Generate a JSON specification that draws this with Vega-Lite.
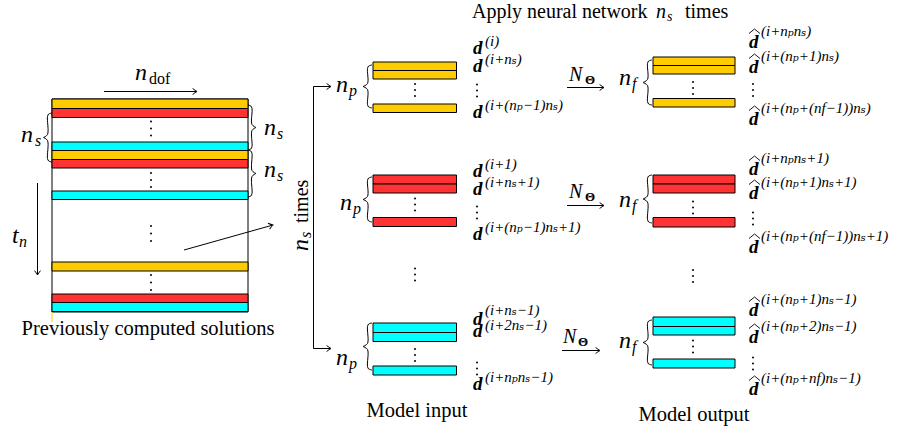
{
  "$schema": "https://vega.github.io/schema/vega-lite/v6.json",
  "width": 919,
  "height": 429,
  "padding": 0,
  "autosize": "none",
  "background": "white",
  "config": {"view": {"stroke": null}, "text": {"font": "'Liberation Serif', 'DejaVu Serif', 'Times New Roman', serif"}},
  "encoding": {
    "x": {"field": "x", "type": "quantitative", "scale": {"domain": [0, 919], "nice": false, "zero": false}, "axis": null},
    "y": {"field": "y", "type": "quantitative", "scale": {"domain": [0, 429], "reverse": true, "nice": false, "zero": false}, "axis": null}
  },
  "layer": [
    {
      "data": {"values": [{"x": 52, "x2": 248, "y": 99, "y2": 312}]},
      "mark": {"type": "rect", "fill": "white", "stroke": "black", "strokeWidth": 1},
      "encoding": {"x2": {"field": "x2"}, "y2": {"field": "y2"}}
    },
    {
      "data": {"values": [
        {"grp": "a", "x": 52, "x2": 248, "y": 99, "y2": 108.5},
        {"grp": "b", "x": 52, "x2": 248, "y": 108.5, "y2": 117.5},
        {"grp": "c", "x": 52, "x2": 248, "y": 142, "y2": 150.5},
        {"grp": "a", "x": 52, "x2": 248, "y": 150.5, "y2": 159.5},
        {"grp": "b", "x": 52, "x2": 248, "y": 159.5, "y2": 168},
        {"grp": "c", "x": 52, "x2": 248, "y": 191, "y2": 199.5},
        {"grp": "a", "x": 52, "x2": 248, "y": 262, "y2": 271},
        {"grp": "b", "x": 52, "x2": 248, "y": 294, "y2": 302.5},
        {"grp": "c", "x": 52, "x2": 248, "y": 302.5, "y2": 311.5},
        {"grp": "a", "x": 373, "x2": 456.5, "y": 62, "y2": 70.5},
        {"grp": "a", "x": 373, "x2": 456.5, "y": 70.5, "y2": 79},
        {"grp": "a", "x": 373, "x2": 456.5, "y": 104, "y2": 112.5},
        {"grp": "b", "x": 373, "x2": 456.5, "y": 175, "y2": 184},
        {"grp": "b", "x": 373, "x2": 456.5, "y": 184, "y2": 193},
        {"grp": "b", "x": 373, "x2": 456.5, "y": 217.5, "y2": 226.5},
        {"grp": "c", "x": 373, "x2": 456.5, "y": 323, "y2": 332.5},
        {"grp": "c", "x": 373, "x2": 456.5, "y": 332.5, "y2": 341.5},
        {"grp": "c", "x": 373, "x2": 456.5, "y": 366, "y2": 375},
        {"grp": "a", "x": 653, "x2": 735, "y": 57, "y2": 65.5},
        {"grp": "a", "x": 653, "x2": 735, "y": 65.5, "y2": 74},
        {"grp": "a", "x": 653, "x2": 735, "y": 98.5, "y2": 107},
        {"grp": "b", "x": 653, "x2": 735, "y": 175, "y2": 184},
        {"grp": "b", "x": 653, "x2": 735, "y": 184, "y2": 193},
        {"grp": "b", "x": 653, "x2": 735, "y": 217.5, "y2": 227},
        {"grp": "c", "x": 653, "x2": 735, "y": 317, "y2": 326.5},
        {"grp": "c", "x": 653, "x2": 735, "y": 326.5, "y2": 335},
        {"grp": "c", "x": 653, "x2": 735, "y": 359, "y2": 368}
      ]},
      "mark": {"type": "rect", "stroke": "black", "strokeWidth": 1},
      "encoding": {
        "x2": {"field": "x2"}, "y2": {"field": "y2"},
        "fill": {"field": "grp", "type": "nominal", "scale": {"domain": ["a", "b", "c"], "range": ["#FFCC00", "#FF3333", "#00FFFF"]}, "legend": null}
      }
    },
    {
      "data": {"values": [{"x": 52, "x2": 52, "y": 312, "y2": 322}]},
      "mark": {"type": "rule", "color": "#FFCC00", "strokeWidth": 1},
      "encoding": {"x2": {"field": "x2"}, "y2": {"field": "y2"}}
    },
    {
      "data": {"values": [
        {"x": 104, "y": 91.5, "x2": 196, "y2": 91.5},
        {"x": 37.5, "y": 183, "x2": 37.5, "y2": 274},
        {"x": 184, "y": 250, "x2": 272, "y2": 225.3},
        {"x": 313.5, "y": 86.5, "x2": 313.5, "y2": 348.5},
        {"x": 313.5, "y": 86.5, "x2": 330, "y2": 86.5},
        {"x": 313.5, "y": 348.5, "x2": 330, "y2": 348.5},
        {"x": 567, "y": 87.5, "x2": 603, "y2": 87.5},
        {"x": 567, "y": 205.5, "x2": 603, "y2": 205.5},
        {"x": 562, "y": 350.5, "x2": 599, "y2": 350.5}
      ]},
      "mark": {"type": "rule", "color": "black", "strokeWidth": 1},
      "encoding": {"x2": {"field": "x2"}, "y2": {"field": "y2"}}
    },
    {
      "data": {"values": [
        {"x": 197, "y": 91.5}, {"x": 331, "y": 86.5}, {"x": 331, "y": 348.5},
        {"x": 604, "y": 87.5}, {"x": 604, "y": 205.5}, {"x": 600, "y": 350.5}
      ]},
      "mark": {"type": "point", "shape": "M-1.6,-1.1Q-0.6,-0.3,0,0Q-0.6,0.3,-1.6,1.1", "filled": false, "stroke": "black", "strokeWidth": 1, "size": 30, "opacity": 1, "angle": 0},
      "encoding": {}
    },
    {
      "data": {"values": [{"x": 37.5, "y": 275}]},
      "mark": {"type": "point", "shape": "M-1.6,-1.1Q-0.6,-0.3,0,0Q-0.6,0.3,-1.6,1.1", "filled": false, "stroke": "black", "strokeWidth": 1, "size": 30, "opacity": 1, "angle": 90},
      "encoding": {}
    },
    {
      "data": {"values": [{"x": 273, "y": 225}]},
      "mark": {"type": "point", "shape": "M-1.6,-1.1Q-0.6,-0.3,0,0Q-0.6,0.3,-1.6,1.1", "filled": false, "stroke": "black", "strokeWidth": 1, "size": 30, "opacity": 1, "angle": 344.3},
      "encoding": {}
    },
    {
      "data": {"values": [
        {"b": "b1t", "k": 0, "x": 52, "y": 113}, {"b": "b1t", "k": 1, "x": 48.7, "y": 114}, {"b": "b1t", "k": 2, "x": 47.5, "y": 116.5}, {"b": "b1t", "k": 3, "x": 47.5, "y": 134.5}, {"b": "b1t", "k": 4, "x": 43.5, "y": 137.5},
        {"b": "b1b", "k": 0, "x": 43.5, "y": 137.5}, {"b": "b1b", "k": 1, "x": 47.5, "y": 140.5}, {"b": "b1b", "k": 2, "x": 47.5, "y": 158.5}, {"b": "b1b", "k": 3, "x": 48.7, "y": 161}, {"b": "b1b", "k": 4, "x": 52, "y": 162},
        {"b": "b2t", "k": 0, "x": 248, "y": 105}, {"b": "b2t", "k": 1, "x": 250.8, "y": 106}, {"b": "b2t", "k": 2, "x": 252, "y": 108.5}, {"b": "b2t", "k": 3, "x": 252, "y": 124.5}, {"b": "b2t", "k": 4, "x": 256, "y": 127.5},
        {"b": "b2b", "k": 0, "x": 256, "y": 127.5}, {"b": "b2b", "k": 1, "x": 252, "y": 130.5}, {"b": "b2b", "k": 2, "x": 252, "y": 146.5}, {"b": "b2b", "k": 3, "x": 250.8, "y": 149}, {"b": "b2b", "k": 4, "x": 248, "y": 150},
        {"b": "b3t", "k": 0, "x": 248, "y": 150}, {"b": "b3t", "k": 1, "x": 250.8, "y": 151}, {"b": "b3t", "k": 2, "x": 252, "y": 153.5}, {"b": "b3t", "k": 3, "x": 252, "y": 170.5}, {"b": "b3t", "k": 4, "x": 256, "y": 173.5},
        {"b": "b3b", "k": 0, "x": 256, "y": 173.5}, {"b": "b3b", "k": 1, "x": 252, "y": 176.5}, {"b": "b3b", "k": 2, "x": 252, "y": 193.5}, {"b": "b3b", "k": 3, "x": 250.8, "y": 196}, {"b": "b3b", "k": 4, "x": 248, "y": 197},
        {"b": "b4t", "k": 0, "x": 372, "y": 65}, {"b": "b4t", "k": 1, "x": 368.7, "y": 66}, {"b": "b4t", "k": 2, "x": 367.5, "y": 68.5}, {"b": "b4t", "k": 3, "x": 367.5, "y": 83.5}, {"b": "b4t", "k": 4, "x": 363, "y": 86.5},
        {"b": "b4b", "k": 0, "x": 363, "y": 86.5}, {"b": "b4b", "k": 1, "x": 367.5, "y": 89.5}, {"b": "b4b", "k": 2, "x": 367.5, "y": 104.5}, {"b": "b4b", "k": 3, "x": 368.7, "y": 107}, {"b": "b4b", "k": 4, "x": 372, "y": 108},
        {"b": "b5t", "k": 0, "x": 372, "y": 177}, {"b": "b5t", "k": 1, "x": 368.7, "y": 178}, {"b": "b5t", "k": 2, "x": 367.5, "y": 180.5}, {"b": "b5t", "k": 3, "x": 367.5, "y": 196.5}, {"b": "b5t", "k": 4, "x": 363, "y": 199.5},
        {"b": "b5b", "k": 0, "x": 363, "y": 199.5}, {"b": "b5b", "k": 1, "x": 367.5, "y": 202.5}, {"b": "b5b", "k": 2, "x": 367.5, "y": 218.5}, {"b": "b5b", "k": 3, "x": 368.7, "y": 221}, {"b": "b5b", "k": 4, "x": 372, "y": 222},
        {"b": "b6t", "k": 0, "x": 372, "y": 323}, {"b": "b6t", "k": 1, "x": 368.7, "y": 324}, {"b": "b6t", "k": 2, "x": 367.5, "y": 326.5}, {"b": "b6t", "k": 3, "x": 367.5, "y": 343.5}, {"b": "b6t", "k": 4, "x": 363, "y": 346.5},
        {"b": "b6b", "k": 0, "x": 363, "y": 346.5}, {"b": "b6b", "k": 1, "x": 367.5, "y": 349.5}, {"b": "b6b", "k": 2, "x": 367.5, "y": 366.5}, {"b": "b6b", "k": 3, "x": 368.7, "y": 369}, {"b": "b6b", "k": 4, "x": 372, "y": 370},
        {"b": "b7t", "k": 0, "x": 652, "y": 60}, {"b": "b7t", "k": 1, "x": 648.7, "y": 61}, {"b": "b7t", "k": 2, "x": 647.5, "y": 63.5}, {"b": "b7t", "k": 3, "x": 647.5, "y": 79.5}, {"b": "b7t", "k": 4, "x": 643, "y": 82.5},
        {"b": "b7b", "k": 0, "x": 643, "y": 82.5}, {"b": "b7b", "k": 1, "x": 647.5, "y": 85.5}, {"b": "b7b", "k": 2, "x": 647.5, "y": 101.5}, {"b": "b7b", "k": 3, "x": 648.7, "y": 104}, {"b": "b7b", "k": 4, "x": 652, "y": 105},
        {"b": "b8t", "k": 0, "x": 652, "y": 175}, {"b": "b8t", "k": 1, "x": 648.7, "y": 176}, {"b": "b8t", "k": 2, "x": 647.5, "y": 178.5}, {"b": "b8t", "k": 3, "x": 647.5, "y": 196}, {"b": "b8t", "k": 4, "x": 643, "y": 199},
        {"b": "b8b", "k": 0, "x": 643, "y": 199}, {"b": "b8b", "k": 1, "x": 647.5, "y": 202}, {"b": "b8b", "k": 2, "x": 647.5, "y": 219.5}, {"b": "b8b", "k": 3, "x": 648.7, "y": 222}, {"b": "b8b", "k": 4, "x": 652, "y": 223},
        {"b": "b9t", "k": 0, "x": 652, "y": 320}, {"b": "b9t", "k": 1, "x": 648.7, "y": 321}, {"b": "b9t", "k": 2, "x": 647.5, "y": 323.5}, {"b": "b9t", "k": 3, "x": 647.5, "y": 339.5}, {"b": "b9t", "k": 4, "x": 643, "y": 342.5},
        {"b": "b9b", "k": 0, "x": 643, "y": 342.5}, {"b": "b9b", "k": 1, "x": 647.5, "y": 345.5}, {"b": "b9b", "k": 2, "x": 647.5, "y": 361.5}, {"b": "b9b", "k": 3, "x": 648.7, "y": 364}, {"b": "b9b", "k": 4, "x": 652, "y": 365}
      ]},
      "mark": {"type": "line", "interpolate": "catmull-rom", "color": "black", "strokeWidth": 1},
      "encoding": {"detail": {"field": "b", "type": "nominal"}, "order": {"field": "k", "type": "quantitative"}}
    },
    {
      "data": {"values": [
        {"h": "h1", "k": 0, "x": 749, "y": 33.5}, {"h": "h1", "k": 1, "x": 754.5, "y": 29}, {"h": "h1", "k": 2, "x": 760, "y": 33.5},
        {"h": "h2", "k": 0, "x": 749, "y": 58.5}, {"h": "h2", "k": 1, "x": 754.5, "y": 54}, {"h": "h2", "k": 2, "x": 760, "y": 58.5},
        {"h": "h3", "k": 0, "x": 749, "y": 110.5}, {"h": "h3", "k": 1, "x": 754.5, "y": 106}, {"h": "h3", "k": 2, "x": 760, "y": 110.5},
        {"h": "h4", "k": 0, "x": 749, "y": 160.5}, {"h": "h4", "k": 1, "x": 754.5, "y": 156}, {"h": "h4", "k": 2, "x": 760, "y": 160.5},
        {"h": "h5", "k": 0, "x": 749, "y": 184.5}, {"h": "h5", "k": 1, "x": 754.5, "y": 180}, {"h": "h5", "k": 2, "x": 760, "y": 184.5},
        {"h": "h6", "k": 0, "x": 749, "y": 238.5}, {"h": "h6", "k": 1, "x": 754.5, "y": 234}, {"h": "h6", "k": 2, "x": 760, "y": 238.5},
        {"h": "h7", "k": 0, "x": 749, "y": 301.5}, {"h": "h7", "k": 1, "x": 754.5, "y": 297}, {"h": "h7", "k": 2, "x": 760, "y": 301.5},
        {"h": "h8", "k": 0, "x": 749, "y": 328.5}, {"h": "h8", "k": 1, "x": 754.5, "y": 324}, {"h": "h8", "k": 2, "x": 760, "y": 328.5},
        {"h": "h9", "k": 0, "x": 749, "y": 380.5}, {"h": "h9", "k": 1, "x": 754.5, "y": 376}, {"h": "h9", "k": 2, "x": 760, "y": 380.5}
      ]},
      "mark": {"type": "line", "color": "black", "strokeWidth": 0.9},
      "encoding": {"detail": {"field": "h", "type": "nominal"}, "order": {"field": "k", "type": "quantitative"}}
    },
    {
      "data": {"values": [
        {"x": 151, "y": 121.5}, {"x": 151, "y": 128.5}, {"x": 151, "y": 135.5},
        {"x": 151, "y": 173}, {"x": 151, "y": 180}, {"x": 151, "y": 187},
        {"x": 151, "y": 226}, {"x": 151, "y": 233.5}, {"x": 151, "y": 241},
        {"x": 151, "y": 275}, {"x": 151, "y": 282.5}, {"x": 151, "y": 290},
        {"x": 415, "y": 84}, {"x": 415, "y": 90}, {"x": 415, "y": 96},
        {"x": 415, "y": 198.5}, {"x": 415, "y": 204.5}, {"x": 415, "y": 210.5},
        {"x": 415, "y": 349}, {"x": 415, "y": 355}, {"x": 415, "y": 361},
        {"x": 415, "y": 268.5}, {"x": 415, "y": 274.5}, {"x": 415, "y": 280.5},
        {"x": 693, "y": 82}, {"x": 693, "y": 88}, {"x": 693, "y": 94},
        {"x": 693, "y": 201.5}, {"x": 693, "y": 207.5}, {"x": 693, "y": 213.5},
        {"x": 693, "y": 340.5}, {"x": 693, "y": 346.5}, {"x": 693, "y": 352.5},
        {"x": 693, "y": 270}, {"x": 693, "y": 276}, {"x": 693, "y": 282},
        {"x": 477, "y": 84.5}, {"x": 477, "y": 90.5}, {"x": 477, "y": 96.5},
        {"x": 477, "y": 206.5}, {"x": 477, "y": 212.5}, {"x": 477, "y": 218.5},
        {"x": 477, "y": 362.5}, {"x": 477, "y": 368.5}, {"x": 477, "y": 374.5},
        {"x": 753, "y": 84}, {"x": 753, "y": 90}, {"x": 753, "y": 96},
        {"x": 753, "y": 212.5}, {"x": 753, "y": 218.5}, {"x": 753, "y": 224.5},
        {"x": 753, "y": 357.5}, {"x": 753, "y": 363.5}, {"x": 753, "y": 369.5}
      ]},
      "mark": {"type": "point", "shape": "circle", "filled": true, "color": "black", "size": 4, "opacity": 1},
      "encoding": {}
    },
    {
      "data": {"values": [
        {"x": 148, "y": 335, "t": "Previously computed solutions"},
        {"x": 417, "y": 417, "t": "Model input"},
        {"x": 694, "y": 421, "t": "Model output"}
      ]},
      "mark": {"type": "text", "fontSize": 20.5, "align": "center", "baseline": "alphabetic", "color": "black"},
      "encoding": {"text": {"field": "t"}}
    },
    {
      "data": {"values": [
        {"x": 472, "y": 18, "t": "Apply neural network"},
        {"x": 685, "y": 18, "t": "times"}
      ]},
      "mark": {"type": "text", "fontSize": 20, "align": "left", "baseline": "alphabetic", "color": "black"},
      "encoding": {"text": {"field": "t"}}
    },
    {
      "data": {"values": [{"x": 149, "y": 84, "t": "dof"}]},
      "mark": {"type": "text", "fontSize": 16, "align": "left", "baseline": "alphabetic", "color": "black"},
      "encoding": {"text": {"field": "t"}}
    },
    {
      "data": {"values": [
        {"x": 135, "y": 80, "t": "n"},
        {"x": 21, "y": 142, "t": "n"},
        {"x": 264, "y": 135, "t": "n"},
        {"x": 264, "y": 177, "t": "n"},
        {"x": 12, "y": 243, "t": "t"},
        {"x": 336, "y": 92, "t": "n"},
        {"x": 340, "y": 210, "t": "n"},
        {"x": 336, "y": 365, "t": "n"},
        {"x": 619, "y": 85, "t": "n"},
        {"x": 619, "y": 207, "t": "n"},
        {"x": 619, "y": 348, "t": "n"}
      ]},
      "mark": {"type": "text", "fontSize": 24, "fontStyle": "italic", "align": "left", "baseline": "alphabetic", "color": "black"},
      "encoding": {"text": {"field": "t"}}
    },
    {
      "data": {"values": [
        {"x": 35, "y": 146, "t": "s"},
        {"x": 277, "y": 139, "t": "s"},
        {"x": 277, "y": 181, "t": "s"},
        {"x": 19, "y": 247, "t": "n"},
        {"x": 349, "y": 96, "t": "p"},
        {"x": 353, "y": 214, "t": "p"},
        {"x": 349, "y": 369, "t": "p"},
        {"x": 632, "y": 89, "t": "f"},
        {"x": 632, "y": 211, "t": "f"},
        {"x": 632, "y": 352, "t": "f"}
      ]},
      "mark": {"type": "text", "fontSize": 16, "fontStyle": "italic", "align": "left", "baseline": "alphabetic", "color": "black"},
      "encoding": {"text": {"field": "t"}}
    },
    {
      "data": {"values": [
        {"x": 656, "y": 18, "t": "n"},
        {"x": 569, "y": 81, "t": "N"},
        {"x": 569, "y": 198, "t": "N"},
        {"x": 563, "y": 343, "t": "N"}
      ]},
      "mark": {"type": "text", "fontSize": 20, "fontStyle": "italic", "align": "left", "baseline": "alphabetic", "color": "black"},
      "encoding": {"text": {"field": "t"}}
    },
    {
      "data": {"values": [{"x": 667, "y": 21, "t": "s"}]},
      "mark": {"type": "text", "fontSize": 14, "fontStyle": "italic", "align": "left", "baseline": "alphabetic", "color": "black"},
      "encoding": {"text": {"field": "t"}}
    },
    {
      "data": {"values": [
        {"x": 585, "y": 84, "t": "Θ"},
        {"x": 585, "y": 201, "t": "Θ"},
        {"x": 578, "y": 346, "t": "Θ"}
      ]},
      "mark": {"type": "text", "fontSize": 13, "fontWeight": "bold", "align": "left", "baseline": "alphabetic", "color": "black"},
      "encoding": {"text": {"field": "t"}}
    },
    {
      "data": {"values": [
        {"x": 473, "y": 54, "t": "d"}, {"x": 473, "y": 72, "t": "d"}, {"x": 473, "y": 118, "t": "d"},
        {"x": 473, "y": 177, "t": "d"}, {"x": 473, "y": 195, "t": "d"}, {"x": 473, "y": 240, "t": "d"},
        {"x": 473, "y": 325, "t": "d"}, {"x": 473, "y": 337, "t": "d"}, {"x": 473, "y": 390, "t": "d"},
        {"x": 749, "y": 48, "t": "d"}, {"x": 749, "y": 73, "t": "d"}, {"x": 749, "y": 125, "t": "d"},
        {"x": 749, "y": 175, "t": "d"}, {"x": 749, "y": 199, "t": "d"}, {"x": 749, "y": 253, "t": "d"},
        {"x": 749, "y": 316, "t": "d"}, {"x": 749, "y": 343, "t": "d"}, {"x": 749, "y": 395, "t": "d"}
      ]},
      "mark": {"type": "text", "fontSize": 19, "fontStyle": "italic", "fontWeight": "bold", "align": "left", "baseline": "alphabetic", "color": "black"},
      "encoding": {"text": {"field": "t"}}
    },
    {
      "data": {"values": [
        {"x": 485, "y": 46, "t": "(i)"},
        {"x": 485, "y": 64, "t": "(i+nₛ)"},
        {"x": 485, "y": 110, "t": "(i+(nₚ−1)nₛ)"},
        {"x": 485, "y": 169, "t": "(i+1)"},
        {"x": 485, "y": 187, "t": "(i+nₛ+1)"},
        {"x": 485, "y": 232, "t": "(i+(nₚ−1)nₛ+1)"},
        {"x": 485, "y": 315, "t": "(i+nₛ−1)"},
        {"x": 485, "y": 330, "t": "(i+2nₛ−1)"},
        {"x": 485, "y": 382, "t": "(i+nₚnₛ−1)"},
        {"x": 761, "y": 36, "t": "(i+nₚnₛ)"},
        {"x": 761, "y": 61, "t": "(i+(nₚ+1)nₛ)"},
        {"x": 761, "y": 113, "t": "(i+(nₚ+(nf−1))nₛ)"},
        {"x": 761, "y": 163, "t": "(i+nₚnₛ+1)"},
        {"x": 761, "y": 187, "t": "(i+(nₚ+1)nₛ+1)"},
        {"x": 761, "y": 241, "t": "(i+(nₚ+(nf−1))nₛ+1)"},
        {"x": 761, "y": 304, "t": "(i+(nₚ+1)nₛ−1)"},
        {"x": 761, "y": 331, "t": "(i+(nₚ+2)nₛ−1)"},
        {"x": 761, "y": 383, "t": "(i+(nₚ+nf)nₛ−1)"}
      ]},
      "mark": {"type": "text", "fontSize": 15, "fontStyle": "italic", "align": "left", "baseline": "alphabetic", "color": "black"},
      "encoding": {"text": {"field": "t"}}
    },
    {
      "data": {"values": [{"x": 308, "y": 251, "t": "n"}]},
      "mark": {"type": "text", "fontSize": 24, "fontStyle": "italic", "align": "left", "baseline": "alphabetic", "angle": 270, "color": "black"},
      "encoding": {"text": {"field": "t"}}
    },
    {
      "data": {"values": [{"x": 311, "y": 238, "t": "s"}]},
      "mark": {"type": "text", "fontSize": 16, "fontStyle": "italic", "align": "left", "baseline": "alphabetic", "angle": 270, "color": "black"},
      "encoding": {"text": {"field": "t"}}
    },
    {
      "data": {"values": [{"x": 308, "y": 223, "t": "times"}]},
      "mark": {"type": "text", "fontSize": 20, "align": "left", "baseline": "alphabetic", "angle": 270, "color": "black"},
      "encoding": {"text": {"field": "t"}}
    }
  ]
}
